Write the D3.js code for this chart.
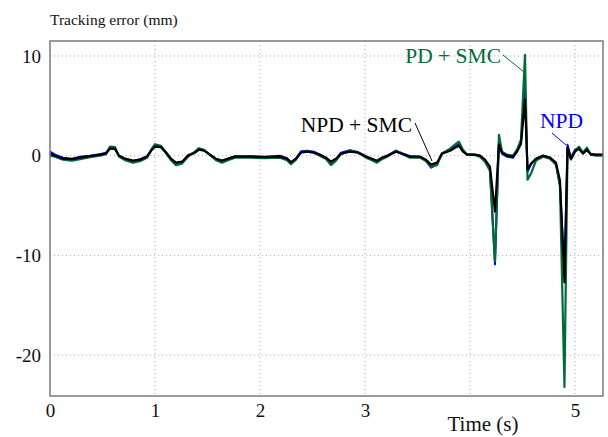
<!DOCTYPE html>
<html><head><meta charset="utf-8">
<script src="https://cdn.jsdelivr.net/npm/d3@7"></script>
<style>body{margin:0;background:#fff}svg{display:block}
text{font-family:"Liberation Serif","Times New Roman",serif}</style>
</head><body>
<svg id="c" width="608" height="437"></svg>
<script>
const time = [0.000,0.048,0.124,0.210,0.286,0.381,0.476,0.533,0.571,0.619,0.657,0.714,0.790,0.857,0.924,0.971,1.000,1.057,1.105,1.152,1.200,1.257,1.314,1.381,1.419,1.467,1.524,1.581,1.638,1.695,1.762,1.905,2.048,2.190,2.257,2.295,2.343,2.390,2.448,2.514,2.571,2.629,2.676,2.724,2.771,2.857,2.933,3.010,3.067,3.114,3.162,3.219,3.295,3.352,3.429,3.524,3.581,3.629,3.686,3.733,3.810,3.857,3.895,3.933,3.971,4.048,4.095,4.143,4.190,4.238,4.276,4.305,4.352,4.410,4.448,4.486,4.524,4.548,4.581,4.629,4.695,4.762,4.819,4.857,4.900,4.929,4.962,5.000,5.038,5.076,5.114,5.152,5.200,5.267];
const npdSmc = [0.2,0.0,-0.3,-0.35,-0.2,-0.05,0.1,0.2,0.7,0.7,0.0,-0.3,-0.5,-0.4,-0.1,0.6,0.9,0.85,0.3,-0.3,-0.7,-0.6,0.0,0.3,0.6,0.5,0.1,-0.3,-0.5,-0.3,-0.1,-0.1,-0.15,-0.1,-0.3,-0.65,-0.3,0.3,0.4,0.3,0.1,-0.2,-0.6,-0.3,0.2,0.4,0.3,-0.1,-0.3,-0.5,-0.2,0.0,0.4,0.2,-0.1,-0.1,-0.4,-0.9,-0.7,0.2,0.5,0.8,1.0,0.4,0.1,0.1,0.0,-0.4,-1.1,-5.6,1.1,0.3,0.0,-0.1,0.4,1.2,5.6,-1.4,-0.8,-0.3,0.0,-0.2,-0.7,-2.5,-12.7,0.8,-0.3,0.4,0.7,0.2,0.6,0.1,0.1,0.1];
const pdSmc = [0.0,-0.1,-0.4,-0.5,-0.35,-0.15,0.0,0.15,0.9,0.85,-0.1,-0.45,-0.7,-0.55,-0.2,0.7,1.15,1.0,0.25,-0.45,-0.95,-0.8,-0.1,0.4,0.75,0.6,0.05,-0.45,-0.7,-0.45,-0.2,-0.2,-0.25,-0.2,-0.45,-0.85,-0.4,0.35,0.45,0.3,0.0,-0.35,-0.95,-0.5,0.15,0.5,0.35,-0.2,-0.45,-0.7,-0.35,-0.05,0.5,0.2,-0.2,-0.2,-0.55,-1.1,-0.95,0.2,0.7,1.1,1.4,0.6,0.1,0.05,-0.1,-0.6,-1.5,-10.6,2.1,0.4,0.1,0.0,0.6,1.6,10.1,-2.4,-1.8,-0.5,-0.1,-0.3,-0.9,-3.0,-23.2,0.5,-0.4,0.5,0.9,0.3,0.8,0.1,0.0,0.0];
const npd = [0.4,0.1,-0.2,-0.3,-0.1,0.0,0.15,0.3,0.8,0.65,0.0,-0.3,-0.55,-0.35,-0.05,0.7,1.0,0.9,0.35,-0.35,-0.85,-0.7,0.05,0.35,0.65,0.55,0.1,-0.35,-0.55,-0.3,-0.05,-0.05,-0.1,0.0,-0.25,-0.75,-0.3,0.45,0.5,0.4,0.1,-0.25,-0.85,-0.4,0.3,0.55,0.35,-0.05,-0.35,-0.6,-0.2,0.05,0.5,0.25,-0.05,-0.1,-0.5,-1.2,-0.9,0.25,0.6,0.9,1.2,0.5,0.15,0.1,0.0,-0.5,-1.3,-10.9,1.5,0.2,-0.1,-0.2,0.5,1.4,7.0,-1.6,-0.9,-0.3,0.0,-0.2,-0.8,-3.0,-11.5,1.1,-0.2,0.6,0.8,0.3,0.5,0.2,0.1,0.1];
const xTicks = [0,1,2,3,5];
const xTickLabels = ["0","1","2","3","5"];
const xGrid = [1,2,3,4,5];
const yTicks = [10,0,-10,-20];
const yTickLabels = ["10","0","-10","-20"];

const svg = d3.select("#c");
const font = "\"Liberation Serif\", \"Times New Roman\", serif";
const x = d3.scaleLinear().domain([0, 5.267]).range([50, 603]);
const y = d3.scaleLinear().domain([-24.1, 11.5]).range([396, 41]);

// grid
const g = svg.append("g");
g.selectAll(".gx").data(xGrid).join("line")
  .attr("x1", d => x(d)).attr("x2", d => x(d)).attr("y1", y.range()[1]).attr("y2", y.range()[0])
  .attr("stroke", "#a8a8a8").attr("stroke-width", 1).attr("stroke-dasharray", "1,3");
g.selectAll(".gy").data(yTicks).join("line")
  .attr("y1", d => y(d)).attr("y2", d => y(d)).attr("x1", x.range()[0]).attr("x2", x.range()[1])
  .attr("stroke", "#a8a8a8").attr("stroke-width", 1).attr("stroke-dasharray", "1,3");

// series
const line = ys => d3.line().x((d, i) => x(time[i])).y(d => y(d))(ys);
const series = [
  {v: npd, c: "#0000ff", w: 2},
  {v: pdSmc, c: "#006b3a", w: 2.2},
  {v: npdSmc, c: "#000000", w: 2.2}
];
svg.append("g").selectAll("path").data(series).join("path")
  .attr("d", d => line(d.v)).attr("fill", "none").attr("stroke", d => d.c)
  .attr("stroke-width", d => d.w).attr("stroke-linejoin", "round");

// frame
svg.append("rect").attr("x", x.range()[0]).attr("y", y.range()[1])
  .attr("width", x.range()[1] - x.range()[0]).attr("height", y.range()[0] - y.range()[1])
  .attr("fill", "none").attr("stroke", "#7a7a7a").attr("stroke-width", 1.5);

// axes
const xa = svg.append("g").attr("transform", `translate(0,${y.range()[0]})`)
  .call(d3.axisBottom(x).tickValues(xTicks).tickSize(0).tickPadding(8).tickFormat((d, i) => xTickLabels[i]));
xa.attr("font-family", null);
xa.select(".domain").remove();
xa.selectAll("text").style("font-family", font).attr("font-size", 19).attr("fill", "#111");
const ya = svg.append("g").attr("transform", `translate(${x.range()[0]},0)`)
  .call(d3.axisLeft(y).tickValues(yTicks).tickSize(0).tickPadding(9).tickFormat((d, i) => yTickLabels[i]));
ya.attr("font-family", null);
ya.select(".domain").remove();
ya.selectAll("text").style("font-family", font).attr("font-size", 19).attr("fill", "#111");

// labels
svg.append("text").attr("x", 50).attr("y", 25).style("font-family", font).attr("font-size", 15.5)
  .attr("fill", "#111").text("Tracking error (mm)");
svg.append("text").attr("x", 483).attr("y", 431).attr("text-anchor", "middle").style("font-family", font)
  .attr("font-size", 21).attr("fill", "#111").text("Time (s)");

// annotations
const ann = [
  {t: "PD + SMC", c: "#006b3a", tx: 501, ty: 63, x1: 503, y1: 55, x2: 524, y2: 72},
  {t: "NPD", c: "#0000ff", tx: 583, ty: 128, x1: 552, y1: 133, x2: 566, y2: 145},
  {t: "NPD + SMC", c: "#000000", tx: 412, ty: 132, x1: 415, y1: 123, x2: 432, y2: 161}
];
svg.append("g").selectAll("line").data(ann).join("line")
  .attr("x1", d => d.x1).attr("y1", d => d.y1).attr("x2", d => d.x2).attr("y2", d => d.y2)
  .attr("stroke", d => d.c).attr("stroke-width", 1);
svg.append("g").selectAll("text").data(ann).join("text")
  .attr("x", d => d.tx).attr("y", d => d.ty).attr("text-anchor", "end")
  .style("font-family", font).attr("font-size", 21.5).attr("fill", d => d.c).text(d => d.t);
</script>
</body></html>
